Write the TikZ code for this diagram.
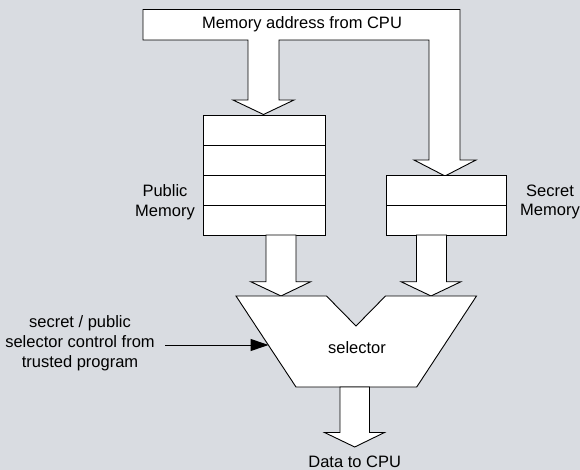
\documentclass[tikz,border=0pt]{standalone}
\usepackage{fontspec}
\setmainfont{Liberation Sans}
\usetikzlibrary{arrows.meta}
\definecolor{bg}{RGB}{217,220,225}
\begin{document}
\begin{tikzpicture}[x=1pt,y=-1pt,
  shapeline/.style={fill=white,draw=black,line width=0.9pt,line join=miter},
  memrow/.style={shapeline,minimum width=122pt,minimum height=30pt,inner sep=0pt,outer sep=0pt},
  lbl/.style={font=\fontsize{16.5}{19.5}\selectfont,align=center,inner sep=0pt},
  ctrl/.style={draw=black,line width=1pt,-{Triangle[length=18pt,width=12pt]}}]
\fill[bg] (0,0) rectangle (580,470);
\useasboundingbox (0,0) rectangle (580,470);
% address bus with two block arrows
\draw[shapeline] (143,9.5) -- (460,9.5) -- (460,160) -- (476,160) -- (445,176) -- (414,160)
  -- (429,160) -- (429,40) -- (279,40) -- (279,100) -- (294,100) -- (263.5,114.5)
  -- (233,100) -- (248,100) -- (248,40) -- (143,40) -- cycle;
\node[lbl] (addr) at (302,24.5) {Memory address from CPU};
% public memory
\node[memrow] (pm1) at (264,130) {};
\node[memrow] (pm2) at (264,160) {};
\node[memrow] (pm3) at (264,190) {};
\node[memrow] (pm4) at (264,220) {};
\node[lbl] (publbl) at (165,202) {Public\\Memory};
% secret memory
\node[memrow,minimum width=120pt] (sm1) at (446,190) {};
\node[memrow,minimum width=120pt] (sm2) at (446,220) {};
\node[lbl] (seclbl) at (550,202) {Secret\\Memory};
% arrows from memories to selector
\draw[shapeline] (266,235) -- (296,235) -- (296,281.7) -- (310.7,281.7) -- (281,296)
  -- (250.7,281.7) -- (266,281.7) -- cycle;
\draw[shapeline] (416.5,235) -- (446.5,235) -- (446.5,281.7) -- (461,281.7) -- (431,296)
  -- (401,281.7) -- (416.5,281.7) -- cycle;
% selector
\draw[shapeline] (236,296) -- (326.5,296) -- (356,326) -- (385.5,296) -- (476.5,296)
  -- (416.7,387) -- (296,387) -- cycle;
\node[lbl] (sel) at (357,347.5) {selector};
% output arrow
\draw[shapeline] (340,387) -- (369.5,387) -- (369.5,432.5) -- (384.5,432.5) -- (354.7,447)
  -- (324.5,432.5) -- (340,432.5) -- cycle;
\node[lbl,anchor=base] (data) at (354.7,467) {Data to CPU};
% control input
\node[lbl,font=\fontsize{16.5}{20}\selectfont] (ctrltext) at (80,343.3) {secret / public\\selector control from\\trusted program};
\coordinate (ctrlstart) at (165,345);
\coordinate (ctrltip) at (268.5,345);
\draw[ctrl] (ctrlstart) -- (ctrltip);
\end{tikzpicture}
\end{document}
